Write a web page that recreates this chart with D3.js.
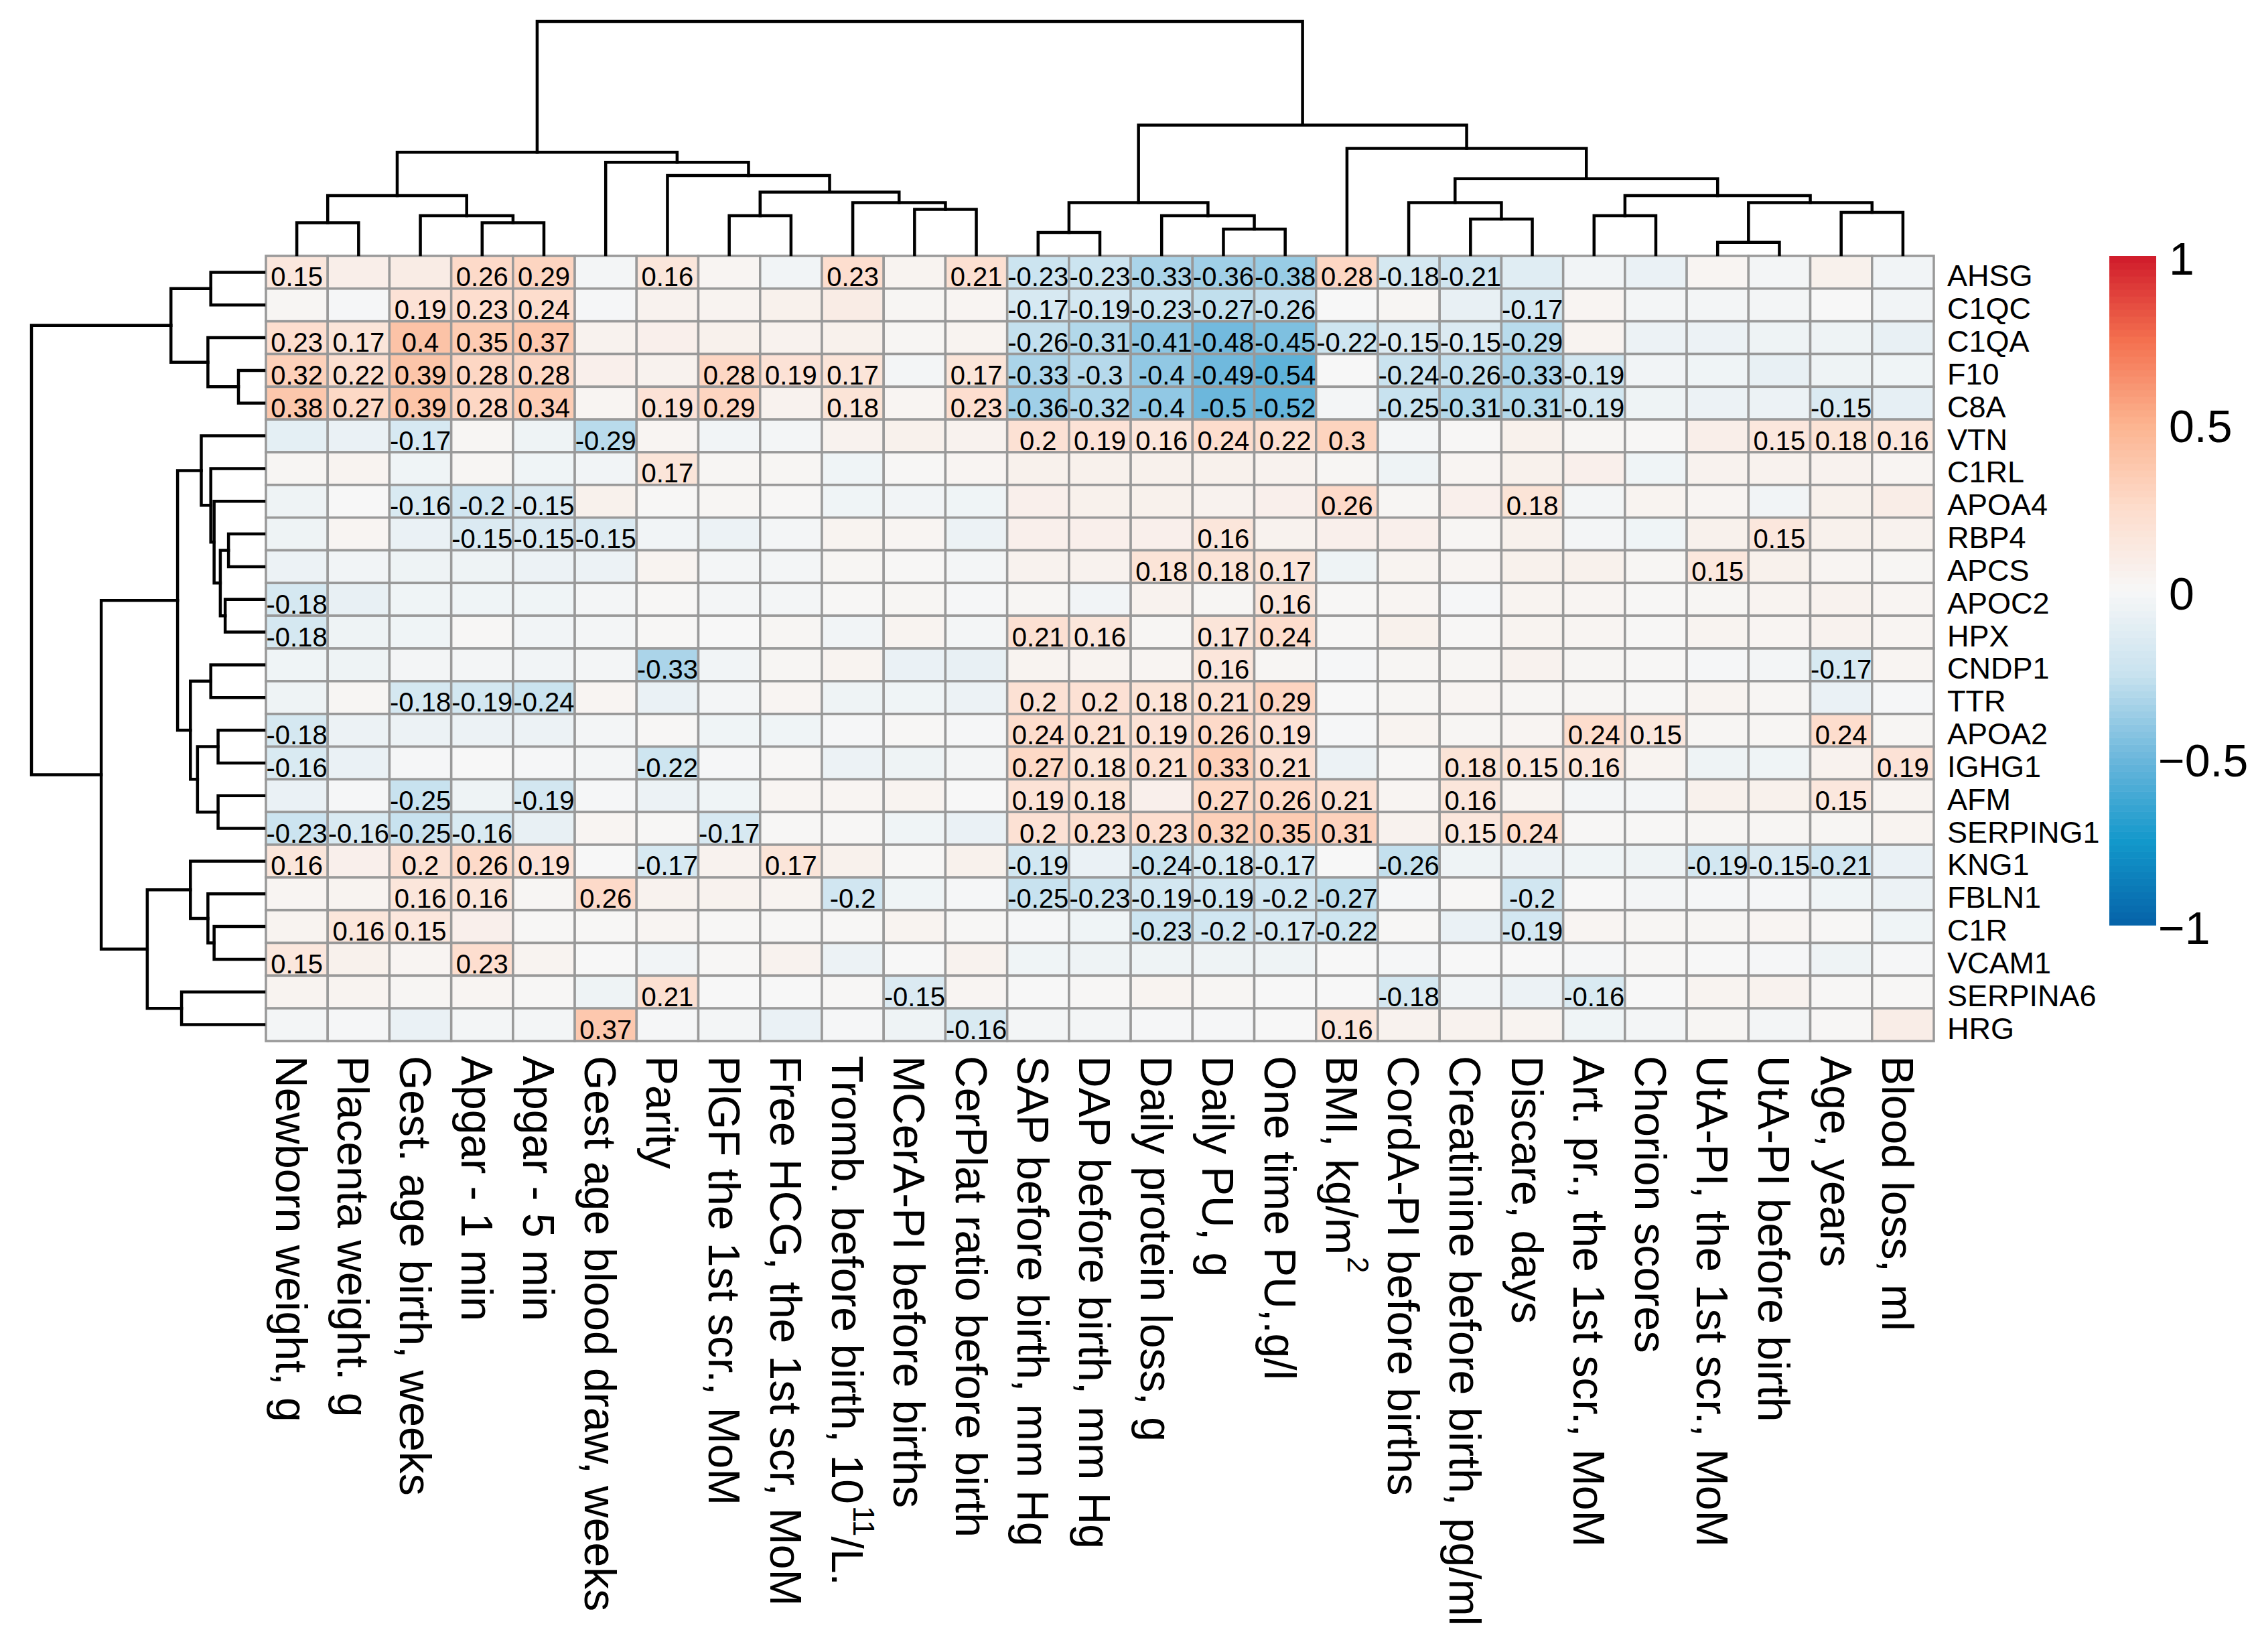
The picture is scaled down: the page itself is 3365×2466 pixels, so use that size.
<!DOCTYPE html>
<html>
<head>
<meta charset="utf-8">
<script src="https://cdn.jsdelivr.net/npm/d3@7"></script>
<style>
  body { margin: 0; background: #fff; }
  text { font-family: "Liberation Sans", Arial, sans-serif; }
</style>
</head>
<body>
<script>
// Column variables (left to right), ^{..} marks a superscript
var colLabels = [
  "Newborn weight, g", "Placenta weight. g", "Gest. age birth, weeks", "Apgar - 1 min",
  "Apgar - 5 min", "Gest age blood draw, weeks", "Parity", "PlGF the 1st scr., MoM",
  "Free HCG, the 1st scr, MoM", "Tromb. before birth, 10^{11}/L.", "MCerA-PI before births",
  "CerPlat ratio before birth", "SAP before birth, mm Hg", "DAP before birth, mm Hg",
  "Daily protein loss, g", "Daily PU, g", "One time PU,.g/l", "BMI, kg/m^{2}",
  "CordA-PI before births", "Creatinine before birth, pg/ml", "Discare, days",
  "Art. pr., the 1st scr., MoM", "Chorion scores", "UtA-PI, the 1st scr., MoM",
  "UtA-PI before birth", "Age, years", "Blood loss, ml"
];

// Proteins (top to bottom)
var rowLabels = ["AHSG", "C1QC", "C1QA", "F10", "C8A", "VTN", "C1RL", "APOA4", "RBP4", "APCS",
  "APOC2", "HPX", "CNDP1", "TTR", "APOA2", "IGHG1", "AFM", "SERPING1", "KNG1", "FBLN1",
  "C1R", "VCAM1", "SERPINA6", "HRG"];

// Correlation coefficients, one row per protein
var corr = [
  [0.15, 0.08, 0.1, 0.26, 0.29, -0.02, 0.16, 0.03, -0.03, 0.23, 0.04, 0.21, -0.23, -0.23, -0.33, -0.36, -0.38, 0.28, -0.18, -0.21, -0.12, -0.03, -0.07, 0.03, -0.02, 0.06, -0.03],
  [0.02, -0.01, 0.19, 0.23, 0.24, -0.01, 0.05, 0.04, 0.06, 0.1, 0.02, 0.03, -0.17, -0.19, -0.23, -0.27, -0.26, 0.0, 0.02, -0.08, -0.17, 0.03, -0.02, -0.02, -0.02, 0.0, -0.03],
  [0.23, 0.17, 0.4, 0.35, 0.37, 0.05, 0.07, 0.06, 0.05, 0.06, 0.02, 0.04, -0.26, -0.31, -0.41, -0.48, -0.45, -0.22, -0.15, -0.15, -0.29, 0.04, -0.06, -0.06, -0.05, -0.05, -0.08],
  [0.32, 0.22, 0.39, 0.28, 0.28, 0.07, 0.05, 0.28, 0.19, 0.17, -0.02, 0.17, -0.33, -0.3, -0.4, -0.49, -0.54, 0.0, -0.24, -0.26, -0.33, -0.19, -0.03, -0.04, -0.08, -0.05, -0.04],
  [0.38, 0.27, 0.39, 0.28, 0.34, 0.03, 0.19, 0.29, 0.05, 0.18, 0.03, 0.23, -0.36, -0.32, -0.4, -0.5, -0.52, -0.02, -0.25, -0.31, -0.31, -0.19, -0.05, -0.06, -0.06, -0.15, -0.09],
  [-0.1, -0.07, -0.17, 0.02, -0.05, -0.29, 0.03, -0.03, -0.02, 0.05, 0.06, 0.05, 0.2, 0.19, 0.16, 0.24, 0.22, 0.3, -0.02, 0.01, 0.06, 0.02, 0.01, 0.08, 0.15, 0.18, 0.16],
  [0.02, 0.04, -0.04, 0.02, -0.04, -0.03, 0.17, 0.02, 0.02, -0.04, 0.01, 0.03, 0.06, 0.06, 0.06, 0.06, 0.05, 0.02, -0.05, 0.03, 0.06, 0.07, -0.04, 0.05, 0.05, 0.05, 0.03],
  [-0.05, 0.0, -0.16, -0.2, -0.15, 0.06, 0.01, 0.02, 0.01, -0.04, -0.03, -0.04, 0.07, 0.06, 0.06, 0.05, 0.07, 0.26, 0.02, 0.07, 0.18, -0.02, 0.04, 0.03, -0.03, 0.06, 0.09],
  [-0.05, 0.03, -0.07, -0.15, -0.15, -0.15, -0.03, -0.06, -0.02, 0.04, 0.03, -0.06, 0.07, 0.07, 0.07, 0.16, 0.05, 0.07, 0.07, 0.02, 0.06, -0.02, -0.04, 0.06, 0.15, 0.06, 0.05],
  [-0.06, -0.03, -0.05, -0.05, -0.06, -0.06, 0.04, -0.02, -0.02, 0.02, 0.01, -0.02, 0.05, 0.05, 0.18, 0.18, 0.17, -0.05, 0.04, 0.03, 0.06, 0.06, 0.02, 0.15, 0.06, 0.03, 0.02],
  [-0.18, -0.08, -0.04, -0.04, -0.04, -0.02, 0.01, -0.02, -0.02, 0.01, 0.02, -0.01, 0.02, -0.03, 0.05, 0.02, 0.16, 0.01, 0.03, -0.01, 0.04, 0.03, 0.01, 0.02, 0.04, 0.05, 0.03],
  [-0.18, -0.05, -0.04, 0.01, -0.03, -0.02, 0.01, 0.0, 0.02, -0.03, 0.04, -0.02, 0.21, 0.16, 0.02, 0.17, 0.24, 0.01, 0.06, 0.01, 0.04, 0.03, 0.01, 0.04, 0.03, 0.05, 0.03],
  [-0.04, -0.05, -0.02, -0.02, -0.03, -0.02, -0.33, -0.03, 0.02, 0.04, -0.07, -0.08, 0.04, 0.04, 0.03, 0.16, 0.02, -0.01, 0.02, 0.02, 0.05, 0.02, 0.01, -0.01, -0.02, -0.17, 0.03],
  [-0.05, 0.02, -0.18, -0.19, -0.24, 0.03, -0.07, -0.02, 0.03, -0.05, -0.04, -0.06, 0.2, 0.2, 0.18, 0.21, 0.29, 0.0, 0.02, 0.03, 0.02, 0.02, 0.01, 0.04, 0.02, -0.07, -0.01],
  [-0.18, -0.06, -0.06, -0.06, -0.06, -0.02, 0.01, -0.04, -0.04, -0.01, 0.01, -0.01, 0.24, 0.21, 0.19, 0.26, 0.19, -0.01, 0.04, 0.02, 0.03, 0.24, 0.15, 0.02, 0.02, 0.24, 0.02],
  [-0.16, -0.07, -0.01, 0.0, -0.01, -0.02, -0.22, -0.01, 0.01, -0.06, -0.05, -0.02, 0.27, 0.18, 0.21, 0.33, 0.21, -0.06, 0.01, 0.18, 0.15, 0.16, 0.04, -0.05, -0.04, 0.05, 0.19],
  [-0.07, -0.01, -0.25, -0.05, -0.19, -0.01, -0.06, -0.04, 0.03, 0.03, 0.04, 0.0, 0.19, 0.18, 0.07, 0.27, 0.26, 0.21, 0.03, 0.16, 0.04, -0.02, -0.02, 0.06, 0.06, 0.15, 0.04],
  [-0.23, -0.16, -0.25, -0.16, -0.08, 0.03, 0.01, -0.17, 0.01, 0.01, -0.04, -0.07, 0.2, 0.23, 0.23, 0.32, 0.35, 0.31, 0.05, 0.15, 0.24, 0.01, 0.01, 0.02, 0.02, 0.02, 0.04],
  [0.16, 0.07, 0.2, 0.26, 0.19, 0.0, -0.17, 0.05, 0.17, 0.06, 0.01, 0.06, -0.19, -0.07, -0.24, -0.18, -0.17, 0.0, -0.26, -0.05, -0.06, -0.04, -0.05, -0.19, -0.15, -0.21, -0.07],
  [0.03, 0.04, 0.16, 0.16, 0.02, 0.26, 0.05, 0.05, 0.04, -0.2, -0.04, -0.01, -0.25, -0.23, -0.19, -0.19, -0.2, -0.27, -0.01, 0.01, -0.2, 0.0, -0.02, -0.01, -0.01, -0.04, -0.06],
  [0.04, 0.16, 0.15, 0.07, 0.01, 0.01, 0.03, 0.01, 0.01, 0.01, 0.04, 0.01, -0.01, -0.04, -0.23, -0.2, -0.17, -0.22, 0.01, -0.07, -0.19, 0.03, 0.02, 0.02, 0.03, 0.01, -0.04],
  [0.15, 0.06, 0.03, 0.23, 0.04, 0.0, -0.03, 0.01, 0.05, -0.06, 0.0, 0.05, -0.04, -0.05, -0.05, -0.05, -0.05, 0.0, -0.01, 0.0, 0.0, -0.01, 0.01, 0.0, -0.01, -0.05, -0.01],
  [0.04, 0.04, 0.02, 0.03, 0.01, -0.05, 0.21, 0.0, 0.0, 0.01, -0.15, 0.03, 0.0, 0.01, 0.04, 0.02, 0.0, 0.0, -0.18, -0.03, -0.06, -0.16, 0.0, 0.04, 0.05, 0.01, 0.01],
  [-0.02, -0.01, -0.07, -0.02, -0.02, 0.37, -0.01, -0.02, -0.07, -0.01, -0.05, -0.16, -0.02, -0.02, -0.01, -0.01, 0.0, 0.16, 0.05, 0.05, 0.04, -0.04, -0.02, 0.02, -0.02, 0.01, 0.09]
];

// Dendrograms: [left, right, mergeHeight], leaves are column / row indices
var colTree = [
  [[[0, 1, 143], [2, [3, 4, 143], 174], 264],
   [5, [6, [[7, 8, 174], [9, [10, 11, 203], 233], 280], 354], 414], 459],
  [[[12, 13, 99], [14, [15, 16, 114], 174], 233],
   [17, [[18, [19, 20, 159], 233], [[21, 22, 174], [[23, 24, 55], [25, 26, 189], 233], 264], 340], 476], 580],
  1045];
var rowTree = [
  [[0, 1, 240], [2, [3, 4, 115], 253], 420],
  [[[5, [6, [7, [[8, 9, 160], [10, 11, 175], 197], 225], 240], 283],
    [[12, 13, 240], [[14, 15, 207], [16, 17, 207], 300], 332], 390],
   [[18, [19, [20, 21, 225], 253], 332], [22, 23, 372], 527], 735],
  1050];

var legendTicks = [1, 0.5, 0, -0.5, -1];

// ---- layout ----
var width = 3365, height = 2466;
var hm = { left: 397, right: 2887, top: 382, bottom: 1554 };

var svg = d3.select("body").append("svg")
  .attr("width", width)
  .attr("height", height);

svg.append("rect").attr("width", width).attr("height", height).attr("fill", "#fff");

var x = d3.scaleBand().domain(d3.range(colLabels.length)).range([hm.left, hm.right]);
var y = d3.scaleBand().domain(d3.range(rowLabels.length)).range([hm.top, hm.bottom]);

var color = d3.scaleLinear()
  .domain([-1, -0.75, -0.5, -0.25, 0, 0.25, 0.5, 0.75, 1])
  .range(["#0562a8", "#1298cb", "#6cb7dc", "#c8e2ef", "#f7f7f7", "#fddccb", "#fcb38f", "#f4704f", "#d01b2b"]);

// flatten matrix into cells
var cells = [];
corr.forEach(function(row, i) {
  row.forEach(function(v, j) { cells.push({ r: i, c: j, v: v }); });
});

var cellG = svg.append("g");
cellG.selectAll("rect")
  .data(cells)
  .enter()
  .append("rect")
  .attr("x", d => x(d.c))
  .attr("y", d => y(d.r))
  .attr("width", x.bandwidth())
  .attr("height", y.bandwidth())
  .attr("fill", d => color(d.v))
  .attr("stroke", "#999")
  .attr("stroke-width", 3.5);

cellG.selectAll("text")
  .data(cells.filter(d => Math.abs(d.v) >= 0.15))
  .enter()
  .append("text")
  .attr("x", d => x(d.c) + x.bandwidth() / 2)
  .attr("y", d => y(d.r) + y.bandwidth() / 2 + 21)
  .attr("text-anchor", "middle")
  .attr("font-size", 40)
  .text(d => String(d.v));

// row labels
svg.append("g").selectAll("text")
  .data(rowLabels)
  .enter()
  .append("text")
  .attr("x", hm.right + 20)
  .attr("y", (d, i) => y(i) + y.bandwidth() / 2 + 21)
  .attr("font-size", 45)
  .text(d => d);

// column labels, rotated to read downwards
var colG = svg.append("g").selectAll("g")
  .data(colLabels)
  .enter()
  .append("g")
  .attr("transform", (d, i) => `translate(${x(i) + x.bandwidth() / 2}, ${hm.bottom + 22}) rotate(90)`);

colG.each(function(d) {
  var t = d3.select(this).append("text")
    .attr("x", 0)
    .attr("y", 31)
    .attr("font-size", 66);
  var parts = d.split(/\^\{|\}/);
  parts.forEach(function(p, k) {
    if (!p) return;
    if (k % 2 === 1) {
      t.append("tspan").attr("font-size", 44).attr("dx", 3).attr("dy", -32).text(p);
    } else {
      var ts = t.append("tspan").text(p);
      if (k > 0) ts.attr("dy", 32);
    }
  });
});

// dendrograms
function drawTree(g, node, pos, hScale, horizontal) {
  // returns [position along leaves, height]
  if (typeof node === "number") return [pos(node), 0];
  var a = drawTree(g, node[0], pos, hScale, horizontal);
  var b = drawTree(g, node[1], pos, hScale, horizontal);
  var h = node[2];
  var pts = [[a[0], a[1]], [a[0], h], [b[0], h], [b[0], b[1]]];
  var line = d3.line()
    .x(p => horizontal ? p[0] : hScale(p[1]))
    .y(p => horizontal ? hScale(p[1]) : p[0]);
  g.append("path")
    .attr("d", line(pts))
    .attr("fill", "none")
    .attr("stroke", "#000")
    .attr("stroke-width", 4.5)
    .attr("stroke-linecap", "square");
  return [(a[0] + b[0]) / 2, h];
}

var colH = d3.scaleLinear().domain([0, 1045]).range([380, 32]);
drawTree(svg.append("g"), colTree, i => x(i) + x.bandwidth() / 2, colH, true);

var rowH = d3.scaleLinear().domain([0, 1050]).range([394, 47]);
drawTree(svg.append("g"), rowTree, i => y(i) + y.bandwidth() / 2, rowH, false);

// colour legend
var legY = d3.scaleLinear().domain([-1, 1]).range([1381, 382]);
var steps = d3.range(-1, 1, 0.02);
svg.append("g").selectAll("rect")
  .data(steps)
  .enter()
  .append("rect")
  .attr("x", 3149)
  .attr("y", d => legY(d + 0.02))
  .attr("width", 70)
  .attr("height", legY(-1) - legY(-0.98) + 0.6)
  .attr("fill", d => color(d + 0.01));

svg.append("g").selectAll("text")
  .data(legendTicks)
  .enter()
  .append("text")
  .attr("x", d => d < 0 ? 3222 : 3238)
  .attr("y", d => legY(d) + 28)
  .attr("font-size", 68)
  .text(d => d < 0 ? "\u2212" + Math.abs(d) : String(d));
</script>
</body>
</html>
